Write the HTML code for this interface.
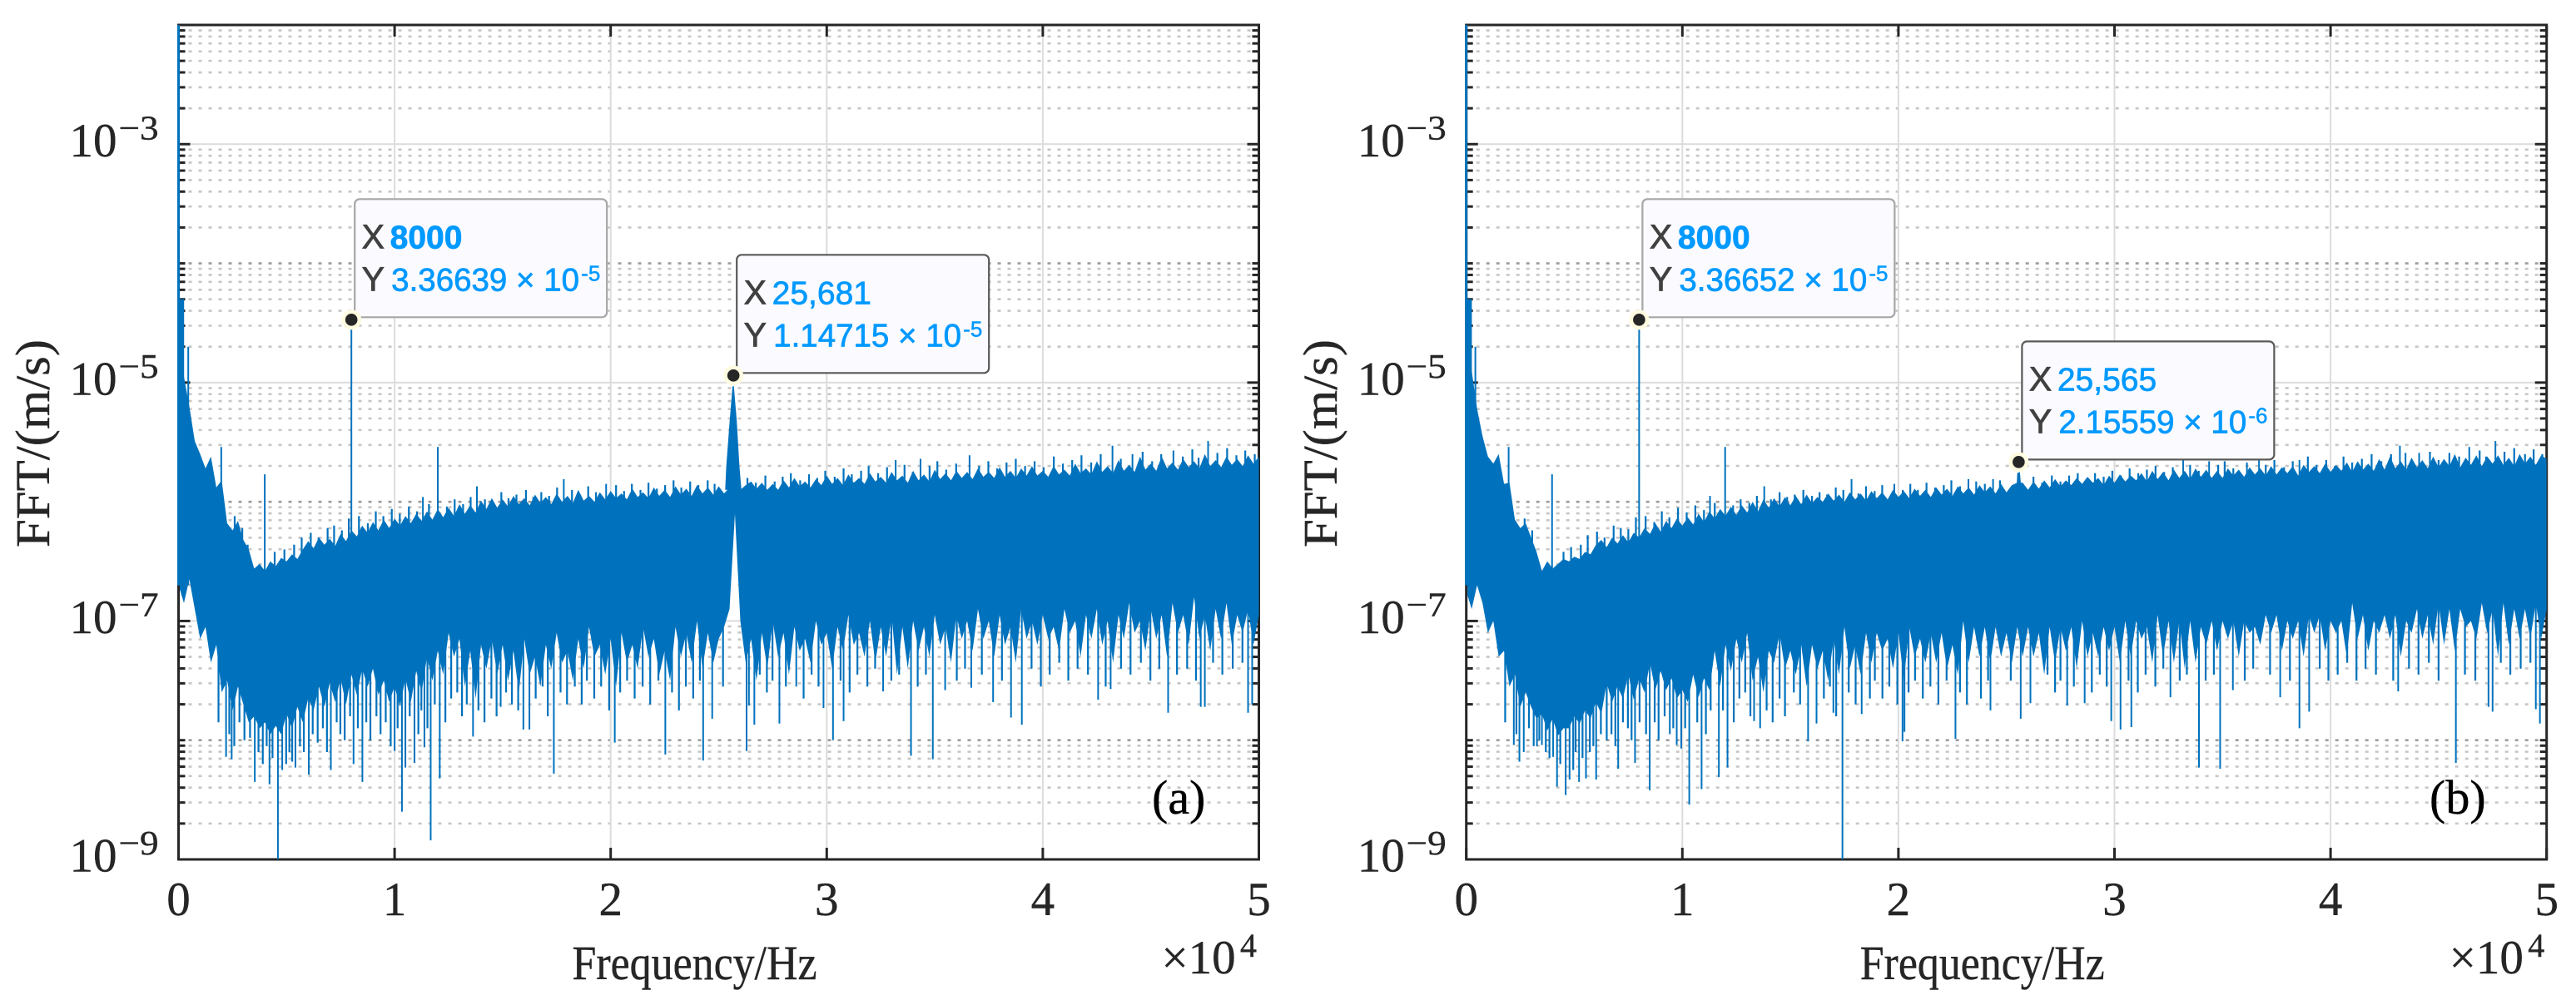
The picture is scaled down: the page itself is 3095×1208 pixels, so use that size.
<!DOCTYPE html>
<html lang="en">
<head>
<meta charset="utf-8">
<title>FFT spectra (a) and (b)</title>
<style>
html,body{margin:0;padding:0;background:#fff;}
body{width:3095px;height:1208px;overflow:hidden;}
svg{display:block;}
.serif{font-family:"Liberation Serif",serif;fill:#262626;stroke:#262626;stroke-width:.4;}
</style>
</head>
<body>
<svg id="fig" xmlns="http://www.w3.org/2000/svg" width="3095" height="1208" viewBox="0 0 3095 1208">
<rect width="3095" height="1208" fill="#fff"/>
<g id="panelA"></g>
<g id="panelB"></g>
</svg>
<script>
// Values are log10(amplitude) for each 250 Hz bin.
const binHz = 250;
const xTicks = [0, 1, 2, 3, 4, 5];
const yMajorExponents = [-9, -7, -5, -3];
const yAllDecades = [-9, -8, -7, -6, -5, -4, -3];
const yMinorMultipliers = [2, 3, 4, 5, 6, 7, 8, 9];
const spikeAnchor = -6.7;

const upperA = [
-4.30,-4.95,-5.20,-5.49,-5.60,-5.72,-5.62,-5.88,-5.82,-6.18,
-6.24,-6.16,-6.32,-6.40,-6.56,-6.52,-6.58,-6.50,-6.54,-6.47,
-6.50,-6.44,-6.48,-6.40,-6.33,-6.39,-6.30,-6.36,-6.31,-6.37,
-6.27,-6.33,-6.24,-6.29,-6.20,-6.26,-6.17,-6.24,-6.15,-6.22,
-6.14,-6.20,-6.12,-6.18,-6.10,-6.16,-6.08,-6.15,-6.06,-6.13,
-6.05,-6.12,-6.02,-6.10,-6.03,-6.09,-5.99,-6.06,-5.97,-6.05,
-5.98,-6.04,-5.95,-6.02,-5.97,-6.03,-5.94,-6.01,-5.96,-6.02,
-5.93,-6.00,-5.95,-6.01,-5.90,-5.99,-5.95,-6.00,-5.92,-5.98,
-5.91,-5.97,-5.93,-5.98,-5.89,-5.96,-5.92,-5.97,-5.88,-5.95,
-5.90,-5.96,-5.87,-5.94,-5.89,-5.95,-5.86,-5.93,-5.88,-5.94,
-5.87,-5.93,-5.88,-5.86,-5.90,-5.86,-5.83,-5.89,-5.84,-5.90,
-5.85,-5.90,-5.82,-5.88,-5.80,-5.87,-5.83,-5.88,-5.81,-5.86,
-5.78,-5.85,-5.80,-5.86,-5.77,-5.84,-5.80,-5.85,-5.76,-5.83,
-5.79,-5.84,-5.75,-5.82,-5.78,-5.84,-5.74,-5.82,-5.77,-5.83,
-5.73,-5.81,-5.76,-5.82,-5.74,-5.80,-5.75,-5.81,-5.72,-5.79,
-5.75,-5.80,-5.71,-5.79,-5.74,-5.80,-5.72,-5.78,-5.70,-5.78,
-5.74,-5.79,-5.70,-5.77,-5.73,-5.78,-5.68,-5.76,-5.72,-5.77,
-5.66,-5.75,-5.70,-5.76,-5.65,-5.74,-5.69,-5.75,-5.62,-5.73,
-5.68,-5.74,-5.62,-5.72,-5.67,-5.73,-5.64,-5.71,-5.66,-5.72,
-5.60,-5.70,-5.65,-5.71,-5.62,-5.69,-5.64,-5.70,-5.61,-5.68,
-5.62];
const lowerA = [
-6.70,-6.85,-6.65,-6.90,-7.15,-7.05,-7.35,-7.20,-7.60,-7.50,
-7.75,-7.55,-7.70,-7.85,-7.80,-7.90,-7.85,-7.95,-7.88,-7.95,
-7.78,-7.90,-7.72,-7.85,-7.65,-7.75,-7.55,-7.72,-7.52,-7.68,
-7.48,-7.70,-7.45,-7.62,-7.40,-7.55,-7.40,-7.62,-7.50,-7.68,
-7.55,-7.72,-7.48,-7.68,-7.42,-7.60,-7.30,-7.50,-7.25,-7.45,
-7.10,-7.30,-7.15,-7.55,-7.25,-7.65,-7.20,-7.40,-7.15,-7.45,
-7.20,-7.50,-7.25,-7.60,-7.15,-7.45,-7.30,-7.55,-7.20,-7.40,
-7.10,-7.35,-7.25,-7.50,-7.15,-7.40,-7.05,-7.30,-7.20,-7.45,
-7.15,-7.55,-7.10,-7.35,-7.20,-7.40,-7.05,-7.30,-7.15,-7.45,
-7.25,-7.50,-7.05,-7.30,-7.10,-7.35,-7.00,-7.40,-7.10,-7.35,
-7.15,-7.05,-6.90,-6.10,-7.00,-7.35,-7.15,-7.50,-7.10,-7.40,
-7.00,-7.30,-7.10,-7.45,-7.05,-7.25,-7.15,-7.35,-7.00,-7.20,
-7.10,-7.40,-7.05,-7.25,-6.95,-7.20,-7.10,-7.30,-7.00,-7.35,
-7.05,-7.30,-6.95,-7.45,-7.05,-7.40,-7.00,-7.25,-7.05,-7.30,
-6.95,-7.20,-7.05,-7.35,-6.95,-7.15,-7.00,-7.25,-6.90,-7.15,
-7.00,-7.30,-6.95,-7.20,-7.05,-7.35,-6.90,-7.15,-7.00,-7.20,
-6.95,-7.15,-7.05,-7.25,-6.90,-7.10,-7.00,-7.30,-6.95,-7.15,
-6.90,-7.20,-7.00,-7.35,-6.95,-7.15,-6.85,-7.10,-7.00,-7.25,
-6.90,-7.15,-6.95,-7.30,-6.85,-7.10,-6.95,-7.20,-6.80,-7.15,
-6.95,-7.25,-6.90,-7.15,-6.85,-7.20,-6.95,-7.10,-6.90,-7.20,
-6.95];
const upperB = [
-4.30,-4.90,-5.22,-5.45,-5.62,-5.68,-5.60,-5.85,-5.84,-6.15,
-6.22,-6.18,-6.30,-6.42,-6.58,-6.50,-6.56,-6.52,-6.48,-6.50,
-6.46,-6.48,-6.42,-6.44,-6.36,-6.32,-6.38,-6.30,-6.35,-6.28,
-6.34,-6.26,-6.30,-6.22,-6.27,-6.18,-6.25,-6.16,-6.22,-6.14,
-6.20,-6.13,-6.19,-6.10,-6.17,-6.08,-6.14,-6.06,-6.12,-6.04,
-6.11,-6.03,-6.09,-6.00,-6.08,-5.98,-6.05,-5.97,-6.04,-5.96,
-6.03,-5.95,-6.02,-5.94,-6.01,-5.96,-6.00,-5.93,-5.99,-5.94,
-6.00,-5.92,-5.98,-5.93,-5.99,-5.91,-5.97,-5.92,-5.98,-5.90,
-5.96,-5.91,-5.97,-5.89,-5.95,-5.90,-5.96,-5.88,-5.94,-5.89,
-5.95,-5.87,-5.93,-5.88,-5.94,-5.86,-5.92,-5.87,-5.93,-5.85,
-5.92,-5.86,-5.84,-5.84,-5.90,-5.83,-5.89,-5.82,-5.88,-5.81,
-5.87,-5.82,-5.86,-5.80,-5.85,-5.79,-5.84,-5.80,-5.86,-5.78,
-5.84,-5.77,-5.83,-5.78,-5.82,-5.76,-5.83,-5.74,-5.81,-5.75,
-5.82,-5.73,-5.80,-5.74,-5.81,-5.72,-5.79,-5.73,-5.80,-5.74,
-5.80,-5.72,-5.78,-5.73,-5.79,-5.71,-5.77,-5.72,-5.78,-5.70,
-5.77,-5.71,-5.76,-5.70,-5.78,-5.69,-5.75,-5.70,-5.76,-5.68,
-5.75,-5.69,-5.74,-5.67,-5.75,-5.66,-5.73,-5.68,-5.74,-5.64,
-5.73,-5.62,-5.72,-5.66,-5.73,-5.63,-5.71,-5.65,-5.72,-5.62,
-5.71,-5.64,-5.70,-5.60,-5.71,-5.63,-5.69,-5.61,-5.70,-5.62,
-5.68,-5.61,-5.69,-5.63,-5.70,-5.60,-5.68,-5.62,-5.69,-5.61,
-5.64];
const lowerB = [
-6.75,-6.90,-6.70,-6.85,-7.10,-7.00,-7.30,-7.25,-7.55,-7.45,
-7.72,-7.60,-7.72,-7.82,-7.78,-7.92,-7.82,-7.96,-7.90,-7.90,
-7.80,-7.86,-7.75,-7.82,-7.68,-7.78,-7.52,-7.68,-7.55,-7.65,
-7.45,-7.66,-7.48,-7.60,-7.35,-7.58,-7.42,-7.58,-7.48,-7.65,
-7.58,-7.68,-7.45,-7.64,-7.48,-7.58,-7.25,-7.55,-7.20,-7.42,
-7.15,-7.35,-7.10,-7.50,-7.30,-7.60,-7.25,-7.35,-7.10,-7.40,
-7.25,-7.45,-7.20,-7.55,-7.20,-7.40,-7.25,-7.50,-7.15,-7.45,
-7.05,-7.40,-7.20,-7.45,-7.10,-7.35,-7.10,-7.25,-7.15,-7.40,
-7.10,-7.50,-7.05,-7.30,-7.15,-7.35,-7.10,-7.35,-7.10,-7.40,
-7.20,-7.45,-7.00,-7.35,-7.05,-7.30,-7.05,-7.35,-7.05,-7.30,
-7.10,-7.35,-7.05,-7.30,-7.05,-7.30,-7.10,-7.45,-7.05,-7.35,
-7.05,-7.25,-7.05,-7.40,-7.00,-7.30,-7.10,-7.30,-7.05,-7.25,
-7.05,-7.35,-7.00,-7.30,-7.00,-7.15,-7.05,-7.35,-6.95,-7.30,
-7.00,-7.35,-7.00,-7.40,-7.00,-7.35,-7.05,-7.20,-7.00,-7.25,
-7.00,-7.15,-7.00,-7.30,-7.00,-7.10,-7.05,-7.20,-6.95,-7.10,
-6.95,-7.25,-7.00,-7.15,-7.00,-7.30,-6.95,-7.10,-6.95,-7.25,
-7.00,-7.10,-7.00,-7.30,-6.85,-7.15,-6.95,-7.25,-7.00,-7.10,
-6.95,-7.15,-6.95,-7.30,-7.00,-7.10,-6.90,-7.15,-6.95,-7.20,
-6.85,-7.20,-6.90,-7.25,-6.90,-7.05,-7.00,-7.15,-6.85,-7.10,
-6.90,-7.30,-6.85,-7.20,-6.90,-7.15,-6.90,-7.15,-6.85,-7.15,
-6.90];

// Narrow resonance hump near 25.6 kHz
const humpFreqA = [25300, 25350, 25510, 25640, 25700, 25835, 25960, 26050];
const humpValA = [-5.9, -5.7, -5.32, -5.03, -5.03, -5.32, -5.7, -5.9];
const humpFreqB = [25450, 25500, 25620, 25720];
const humpValB = [-5.95, -5.76, -5.75, -5.95];

// Isolated thin peaks above the noise floor
const upFreqA = [0, 100, 200, 450, 1977, 3990, 8000, 11310, 12000, 13810, 17830, 19790, 33190, 34340, 36610, 43225, 44150, 46045, 47650];
const upValA = [-2, -4.30, -4.30, -4.70, -5.54, -5.77, -4.473, -5.96, -5.54, -5.87, -5.81, -5.85, -5.65, -5.64, -5.61, -5.53, -5.60, -5.57, -5.49];
const upFreqB = [0, 100, 200, 420, 1960, 3970, 8000, 11280, 11980, 13790, 17830, 19810, 23240, 24380, 33180, 34380, 36130, 36690, 38560, 43210, 43470, 44100, 46420, 47630];
const upValB = [-2, -4.30, -4.30, -4.70, -5.54, -5.77, -4.473, -5.95, -5.54, -5.87, -5.81, -5.85, -5.81, -5.81, -5.65, -5.66, -5.67, -5.65, -5.65, -5.53, -5.59, -5.59, -5.54, -5.49];

// Small ragged peaks along the top of the noise band
const fineUpFreqA = [
2600,2950,3200,4450,4900,5350,5700,6120,6480,6900,
7200,7560,7880,8350,8760,9130,9480,9870,10240,10660,
11040,11590,12420,12780,13170,13520,14180,14560,14940,15270,
15640,16080,16420,16790,17150,17520,18210,18590,18960,19320,
20250,20620,20980,21380,21750,22140,22520,22910,23270,23680,
24060,24490,24810,26330,26720,27160,27590,27960,28340,28770,
29180,29560,29930,30370,30780,31160,31590,31940,32380,32790,
33600,33980,34760,35120,35530,35990,37050,37480,37890,38320,
38750,39180,39620,40040,40510,40930,41360,41790,42240,42680,
43610,44620,45060,45480,46480,46920,47210,48080,48530,48960,
49370,49810];
const fineUpValA = [
-6.12,-6.22,-6.36,-6.42,-6.40,-6.36,-6.30,-6.26,-6.30,-6.22,
-6.20,-6.24,-6.14,-6.12,-6.18,-6.08,-6.12,-6.06,-6.10,-6.04,
-6.08,-6.02,-6.04,-5.98,-6.02,-5.96,-5.98,-6.01,-5.92,-5.97,
-5.94,-5.90,-5.96,-5.92,-5.95,-5.88,-5.90,-5.94,-5.87,-5.92,
-5.86,-5.91,-5.85,-5.90,-5.84,-5.89,-5.86,-5.82,-5.88,-5.83,
-5.86,-5.82,-5.85,-5.80,-5.84,-5.78,-5.83,-5.79,-5.76,-5.82,
-5.77,-5.80,-5.74,-5.79,-5.72,-5.77,-5.74,-5.70,-5.76,-5.71,
-5.69,-5.75,-5.70,-5.66,-5.73,-5.68,-5.70,-5.66,-5.72,-5.67,
-5.64,-5.70,-5.66,-5.71,-5.62,-5.68,-5.65,-5.61,-5.67,-5.60,
-5.64,-5.58,-5.66,-5.60,-5.62,-5.56,-5.63,-5.59,-5.55,-5.61,
-5.57,-5.60];
const fineUpFreqB = [
2700,3050,4500,4850,5300,5620,6050,6400,6820,7150,
7500,7850,8300,8700,9050,9400,9800,10200,10600,11000,
11500,12350,12700,13100,13450,14100,14500,14850,15200,15600,
16000,16350,16700,17100,17450,18150,18500,18900,19250,20200,
20550,20900,21300,21700,22100,22450,22850,23600,24000,24700,
26250,26650,27100,27500,27900,28300,28700,29100,29500,29900,
30300,30700,31100,31500,31900,32300,32700,33500,33900,34800,
35100,35500,37000,37400,37850,38250,38950,39350,39800,40200,
40600,41000,41450,41900,42350,42800,44600,45000,45500,45950,
46900,47200,48050,48500,49000,49400,49800];
const fineUpValB = [
-6.14,-6.24,-6.42,-6.38,-6.36,-6.28,-6.25,-6.30,-6.20,-6.22,
-6.23,-6.13,-6.12,-6.17,-6.08,-6.13,-6.05,-6.09,-6.03,-6.07,
-6.01,-6.03,-5.98,-6.01,-5.95,-5.98,-5.92,-5.96,-5.94,-5.90,
-5.95,-5.92,-5.94,-5.88,-5.90,-5.93,-5.87,-5.91,-5.86,-5.90,
-5.85,-5.90,-5.84,-5.88,-5.86,-5.82,-5.87,-5.83,-5.85,-5.82,
-5.79,-5.84,-5.78,-5.83,-5.78,-5.76,-5.81,-5.76,-5.79,-5.74,
-5.78,-5.72,-5.76,-5.73,-5.70,-5.75,-5.71,-5.69,-5.74,-5.69,
-5.66,-5.72,-5.69,-5.65,-5.71,-5.66,-5.62,-5.69,-5.65,-5.70,
-5.62,-5.67,-5.64,-5.60,-5.66,-5.60,-5.58,-5.65,-5.59,-5.62,
-5.57,-5.62,-5.58,-5.55,-5.60,-5.56,-5.60];

// Thin notches below the noise floor
const downFreqA = [2200, 2460, 3530, 4210, 4600, 4800, 5410, 6030, 7050, 8100, 8510, 10000, 10340, 10500, 10920, 11380, 11670, 12090, 13630, 14910, 15960, 16240, 17370, 20190, 22530, 24280, 24700, 26290, 26400, 26650, 27810, 28590, 29850, 30290, 30780, 32610, 33900, 34910, 35480, 36690, 37700, 38530, 39030, 42560, 43140, 45800, 47310, 47500, 49500, 49690];
const downValA = [-8.14, -8.16, -8.35, -8.37, -9.0, -8.25, -8.23, -8.29, -8.25, -8.2, -8.35, -8.09, -8.6, -8.23, -8.19, -8.06, -8.84, -8.32, -7.97, -7.72, -7.91, -7.91, -8.28, -8.02, -8.12, -8.17, -7.82, -8.09, -7.71, -7.87, -7.86, -7.55, -7.73, -8.0, -7.84, -7.59, -8.13, -8.16, -7.58, -7.56, -7.68, -7.81, -7.87, -7.66, -7.57, -7.77, -7.72, -7.72, -7.77, -7.70];
const downFreqB = [2200, 2460, 2660, 3270, 3500, 4020, 4200, 4600, 4780, 5220, 5540, 6010, 7030, 7810, 8490, 9420, 9740, 9950, 10320, 10890, 11690, 12090, 13320, 13600, 15820, 16210, 16990, 17410, 18300, 20190, 20280, 22640, 24260, 25660, 26110, 27810, 28620, 29850, 30280, 30780, 32590, 33910, 34890, 35480, 37670, 38560, 39010, 43130, 45800, 47310, 47500, 49500, 49690];
const downValB = [-8.04, -8.18, -8.10, -8.05, -8.04, -8.14, -8.39, -8.46, -8.33, -8.35, -8.32, -8.33, -8.24, -8.19, -8.42, -7.95, -8.04, -8.07, -8.54, -8.41, -8.31, -8.23, -7.84, -7.90, -8.01, -7.86, -7.77, -9.0, -7.78, -8.01, -7.93, -7.99, -7.75, -7.82, -7.69, -7.71, -7.69, -7.84, -7.91, -7.89, -7.64, -8.23, -8.24, -7.58, -7.64, -7.90, -7.76, -7.59, -8.19, -7.72, -7.76, -7.74, -7.86];

// Shorter notches that rag the bottom of the noise band
const fineDownFreqA = [
1850,2350,2580,2820,3050,3310,3700,3900,4080,4350,
4980,5130,5260,5620,5800,6210,6440,6680,6870,7320,
7490,7690,7940,8300,8690,8880,9160,9350,9590,9820,
10140,10700,11100,11240,11520,11860,12350,12620,12900,13120,
13340,13880,14160,14480,14720,15160,15430,15720,16530,16850,
17090,17680,17980,18340,18660,18900,19240,19560,19930,20440,
20760,21110,21480,21830,22210,22840,23160,23480,23820,24130,
25200,26900,27230,27490,28110,28930,29300,29620,30640,31060,
31420,31880,32240,32990,33350,34210,34590,36020,36400,37180,
38110,39480,39910,40320,40760,41180,41610,42090,42910,43620,
44060,44540,44980,45390,46210,46680,47090,47880,48310,48790,
49240];
const fineDownValA = [
-7.85,-7.95,-8.05,-7.85,-8.00,-7.98,-8.10,-8.20,-8.05,-8.15,
-8.20,-8.10,-8.18,-8.05,-8.10,-7.95,-8.02,-7.90,-8.10,-7.85,
-7.95,-8.00,-7.80,-7.90,-7.85,-8.00,-7.80,-7.95,-7.85,-8.05,
-7.90,-7.80,-7.95,-7.75,-7.90,-7.70,-7.85,-7.65,-7.60,-7.80,
-7.70,-7.75,-7.85,-7.65,-7.80,-7.60,-7.70,-7.75,-7.65,-7.55,
-7.80,-7.60,-7.70,-7.55,-7.70,-7.50,-7.65,-7.55,-7.75,-7.60,
-7.50,-7.65,-7.55,-7.70,-7.50,-7.60,-7.75,-7.55,-7.65,-7.50,
-7.55,-7.45,-7.60,-7.50,-7.55,-7.65,-7.45,-7.55,-7.50,-7.60,
-7.45,-7.55,-7.40,-7.50,-7.45,-7.55,-7.45,-7.50,-7.40,-7.45,
-7.50,-7.40,-7.55,-7.45,-7.35,-7.50,-7.40,-7.45,-7.55,-7.40,
-7.45,-7.35,-7.50,-7.40,-7.45,-7.40,-7.50,-7.35,-7.45,-7.40,
-7.35];
const fineDownFreqB = [
1800,2320,2900,3120,3380,3680,3850,4350,4950,5060,
5380,5720,5880,6230,6500,6720,6900,7250,7480,7650,
8020,8320,8720,8900,9180,9580,10130,10690,11090,11310,
11880,12380,12640,12910,13150,13900,14180,14500,14750,15160,
15450,16550,16830,17120,17700,18020,18680,18910,19260,19580,
19950,20470,20770,21130,21480,21850,22230,22850,23170,23820,
24150,25200,26900,27250,27500,28120,28950,29320,29640,30650,
31080,31440,31890,32260,33020,33350,34220,34600,36030,36420,
37200,38120,39500,39900,40330,40770,41200,41620,42100,42900,
43630,44070,44550,45000,46220,46700,47880,48320,48800,49250];
const fineDownValB = [
-7.85,-7.95,-7.90,-8.05,-8.00,-8.10,-8.15,-8.20,-8.25,-8.10,
-8.15,-8.10,-8.05,-7.95,-8.00,-7.95,-8.05,-7.85,-7.90,-8.00,
-7.85,-7.95,-7.85,-8.00,-7.80,-7.90,-7.90,-7.85,-7.95,-7.75,
-7.75,-7.85,-7.65,-7.60,-7.80,-7.75,-7.85,-7.65,-7.80,-7.60,
-7.70,-7.65,-7.55,-7.80,-7.60,-7.70,-7.65,-7.50,-7.65,-7.55,
-7.70,-7.60,-7.50,-7.65,-7.55,-7.70,-7.50,-7.60,-7.70,-7.65,
-7.50,-7.50,-7.45,-7.60,-7.50,-7.55,-7.60,-7.45,-7.55,-7.50,
-7.60,-7.45,-7.55,-7.40,-7.50,-7.45,-7.50,-7.45,-7.50,-7.40,
-7.45,-7.50,-7.40,-7.50,-7.45,-7.35,-7.50,-7.40,-7.45,-7.50,
-7.40,-7.45,-7.35,-7.50,-7.45,-7.50,-7.35,-7.45,-7.40,-7.35];

// Data tips
const tipFreqA = [8000, 25681];
const tipAmpA = [3.36639e-5, 1.14715e-5];
const tipFreqB = [8000, 25565];
const tipAmpB = [3.36652e-5, 2.15559e-6];
const tipXTextA = ['8000', '25,681'];
const tipYTextA = ['3.36639', '1.14715'];
const tipExpTextA = ['-5', '-5'];
const tipXTextB = ['8000', '25,565'];
const tipYTextB = ['3.36652', '2.15559'];
const tipExpTextB = ['-5', '-6'];

const NS = 'http://www.w3.org/2000/svg';
const yTop = 30, yBottom = 1033, yMinExp = -9, yMaxExp = -2, plotW = 1298, xMaxHz = 50000;
const dataColor = '#0072bd', ink = '#262626';

function yOf(logV) { return yBottom - (logV - yMinExp) / (yMaxExp - yMinExp) * (yBottom - yTop); }
function mk(tag, parent, attrs) {
  const el = document.createElementNS(NS, tag);
  for (const k in attrs) el.setAttribute(k, attrs[k]);
  parent.appendChild(el);
  return el;
}
function label(parent, str, x, y, size, extra) {
  const el = mk('text', parent, Object.assign({ x: x, y: y, 'font-size': size, class: 'serif' }, extra || {}));
  el.textContent = str;
  return el;
}

function drawPanel(root, x0, d) {
  const xOf = f => x0 + f / xMaxHz * plotW;
  const xRight = x0 + plotW;

  // Minor dotted grid and minor ticks
  yAllDecades.forEach(function (e) {
    yMinorMultipliers.forEach(function (m) {
      const y = yOf(e + Math.log10(m));
      const g = mk('line', root, { x1: x0, x2: xRight, y1: y, y2: y, stroke: '#c6c6c6', 'stroke-width': 2.6, 'stroke-dasharray': '4 8', 'stroke-dashoffset': -12 });
      
      
    });
    if (e % 2 === 0) {
      const y = yOf(e);
      const g = mk('line', root, { x1: x0, x2: xRight, y1: y, y2: y, stroke: '#9c9c9c', 'stroke-width': 2.6, 'stroke-dasharray': '4 8', 'stroke-dashoffset': -12 });
      
      
    }
  });

  // Major grid
  yMajorExponents.forEach(function (e) {
    if (e === yMinExp) return;
    const y = yOf(e);
    const g = mk('line', root, { x1: x0, x2: xRight, y1: y, y2: y, stroke: '#dcdcdc', 'stroke-width': 2 });
    
    
  });
  xTicks.forEach(function (t) {
    if (t === 0 || t === 5) return;
    const x = xOf(t * 1e4);
    const g = mk('line', root, { x1: x, x2: x, y1: yTop, y2: yBottom, stroke: '#dcdcdc', 'stroke-width': 2 });
    
    
  });

  // Y ticks, both sides
  yAllDecades.forEach(function (e) {
    yMinorMultipliers.concat([1]).forEach(function (m) {
      const y = yOf(e + Math.log10(m));
      const major = m === 1 && yMajorExponents.indexOf(e) >= 0;
      const len = major ? 14 : 8;
      const a = mk('line', root, { x1: x0, x2: x0 + len, y1: y, y2: y, stroke: ink, 'stroke-width': 3 });
      
      
      const b = mk('line', root, { x1: xRight, x2: xRight - len, y1: y, y2: y, stroke: ink, 'stroke-width': 3 });
      
      
    });
  });
  // X ticks, both sides
  xTicks.forEach(function (t) {
    const x = xOf(t * 1e4);
    const a = mk('line', root, { x1: x, x2: x, y1: yBottom, y2: yBottom - 14, stroke: ink, 'stroke-width': 3 });
    
    
    const b = mk('line', root, { x1: x, x2: x, y1: yTop, y2: yTop + 14, stroke: ink, 'stroke-width': 3 });
    
    
    const tl = label(root, String(t), x, 1100, 57, { 'text-anchor': 'middle' });
    
    
  });

  // Axes box
  const box = mk('rect', root, { x: x0, y: yTop, width: plotW, height: yBottom - yTop, fill: 'none', stroke: ink, 'stroke-width': 3 });
  
  

  // Y tick labels
  yMajorExponents.forEach(function (e) {
    const y = yOf(e);
    const base = label(root, '10', x0 - 131, y + 14.6, 57);
    
    
    const sup = label(root, '\u2212' + Math.abs(e), x0 - 72, y - 6, 41, { textLength: 48, lengthAdjust: 'spacingAndGlyphs' });
    
    
  });

  // Axis titles
  const xt = label(root, 'Frequency/Hz', x0 + 473, 1177, 58, { textLength: 294, lengthAdjust: 'spacingAndGlyphs' });
  
  
  const yt = label(root, 'FFT/(m/s)', 0, 0, 58, { textLength: 250, lengthAdjust: 'spacingAndGlyphs', transform: 'translate(' + (x0 - 155.5) + ',658) rotate(-90)' });
  
  
  const ex1 = label(root, '\u00d710', x0 + 1181, 1170, 57);
  
  
  const ex2 = label(root, '4', x0 + 1275.5, 1150, 40);
  
  

  // Spectrum
  const clipId = 'clip' + d.tag;
  const defs = mk('defs', root, {});
  const cp = mk('clipPath', defs, { id: clipId });
  mk('rect', cp, { x: x0 + 1.5, y: yTop, width: plotW - 1.5, height: yBottom - yTop });
  const series = mk('g', root, { 'clip-path': 'url(#' + clipId + ')' });
  
  
  let pts = [];
  d.upper.forEach(function (v, i) { pts.push(xOf(i * binHz).toFixed(1) + ',' + yOf(v).toFixed(1)); });
  for (let i = d.lower.length - 1; i >= 0; i--) pts.push(xOf(i * binHz).toFixed(1) + ',' + yOf(d.lower[i]).toFixed(1));
  const band = mk('polygon', series, { points: pts.join(' '), fill: dataColor });
  
  

  let hp = d.humpFreq.map(function (f, i) { return xOf(f).toFixed(1) + ',' + yOf(d.humpVal[i]).toFixed(1); });
  const hump = mk('polygon', series, { points: hp.join(' '), fill: dataColor });
  
  

  const spikes = mk('g', root, {});
  
  
  d.upFreq.forEach(function (f, i) {
    const s = mk('line', spikes, { x1: xOf(f), x2: xOf(f), y1: yOf(spikeAnchor), y2: yOf(d.upVal[i]), stroke: dataColor, 'stroke-width': f < 300 ? 3 : 2 });
    
    
  });
  d.downFreq.forEach(function (f, i) {
    const s = mk('line', spikes, { x1: xOf(f), x2: xOf(f), y1: yOf(spikeAnchor), y2: yOf(d.downVal[i]), stroke: dataColor, 'stroke-width': 2 });
    
    
  });
  d.fineUpFreq.forEach(function (f, i) {
    const s = mk('line', spikes, { x1: xOf(f), x2: xOf(f), y1: yOf(spikeAnchor), y2: yOf(d.fineUpVal[i]), stroke: dataColor, 'stroke-width': 2.2 });
    
    
  });
  d.fineDownFreq.forEach(function (f, i) {
    const s = mk('line', spikes, { x1: xOf(f), x2: xOf(f), y1: yOf(spikeAnchor), y2: yOf(d.fineDownVal[i]), stroke: dataColor, 'stroke-width': 2.2 });
    
    
  });

  // Panel tag
  const tg = label(root, d.panelLabel, d.panelLabelX, 978, 58, { style: 'fill:#000;stroke:#000' });
  
  

  // Data tips
  d.tipFreq.forEach(function (f, i) {
    const mx = xOf(f), my = yOf(Math.log10(d.tipAmp[i]));
    const g = mk('g', root, {});
    
    
    const left = mx + 4, top = my - 145;
    const r = mk('rect', g, { x: left, y: top, width: 303, height: 142, rx: 6, ry: 6, fill: '#fafaff', stroke: i === 0 ? '#a6a6a6' : '#595959', 'stroke-width': 2.2 });
    
    
    const halo = mk('circle', g, { cx: mx, cy: my, r: 12, fill: '#fffbe0' });
    
    
    const dot = mk('circle', g, { cx: mx, cy: my, r: 7.3, fill: ink });
    
    
    const font = '"Liberation Sans",sans-serif';
    const xl = mk('text', g, { x: left + 8.5, y: top + 59, 'font-size': 41, 'font-family': font, fill: '#404040', stroke: '#404040', 'stroke-width': 0.8 });
    xl.textContent = 'X';
    
    
    const xv = mk('text', g, { x: left + 42.5, y: top + 59, 'font-size': 39, 'font-family': font, fill: '#0099ff', stroke: '#0099ff', 'stroke-width': 0.7, 'font-weight': i === 0 ? 'bold' : 'normal' });
    xv.textContent = d.tipXText[i];
    
    
    const yl = mk('text', g, { x: left + 8.5, y: top + 110, 'font-size': 41, 'font-family': font, fill: '#404040', stroke: '#404040', 'stroke-width': 0.8 });
    yl.textContent = 'Y';
    
    
    const yv = mk('text', g, { x: left + 44, y: top + 110, 'font-size': 38.5, 'font-family': font, fill: '#0099ff', stroke: '#0099ff', 'stroke-width': 0.7 });
    yv.textContent = d.tipYText[i] + ' \u00d7 10';
    
    
    const ye = mk('text', g, { x: left + 272, y: top + 98, 'font-size': 26, 'font-family': font, fill: '#0099ff', stroke: '#0099ff', 'stroke-width': 0.5 });
    ye.textContent = d.tipExpText[i];
    
    
  });
}

drawPanel(document.getElementById('panelA'), 214.5, {
  tag: 'A', upper: upperA, lower: lowerA, humpFreq: humpFreqA, humpVal: humpValA,
  upFreq: upFreqA, upVal: upValA, downFreq: downFreqA, downVal: downValA,
  fineUpFreq: fineUpFreqA, fineUpVal: fineUpValA, fineDownFreq: fineDownFreqA, fineDownVal: fineDownValA,
  tipFreq: tipFreqA, tipAmp: tipAmpA, tipXText: tipXTextA, tipYText: tipYTextA, tipExpText: tipExpTextA,
  panelLabel: '(a)', panelLabelX: 1384
});
drawPanel(document.getElementById('panelB'), 1761.7, {
  tag: 'B', upper: upperB, lower: lowerB, humpFreq: humpFreqB, humpVal: humpValB,
  upFreq: upFreqB, upVal: upValB, downFreq: downFreqB, downVal: downValB,
  fineUpFreq: fineUpFreqB, fineUpVal: fineUpValB, fineDownFreq: fineDownFreqB, fineDownVal: fineDownValB,
  tipFreq: tipFreqB, tipAmp: tipAmpB, tipXText: tipXTextB, tipYText: tipYTextB, tipExpText: tipExpTextB,
  panelLabel: '(b)', panelLabelX: 2919
});
</script>
</body>
</html>
